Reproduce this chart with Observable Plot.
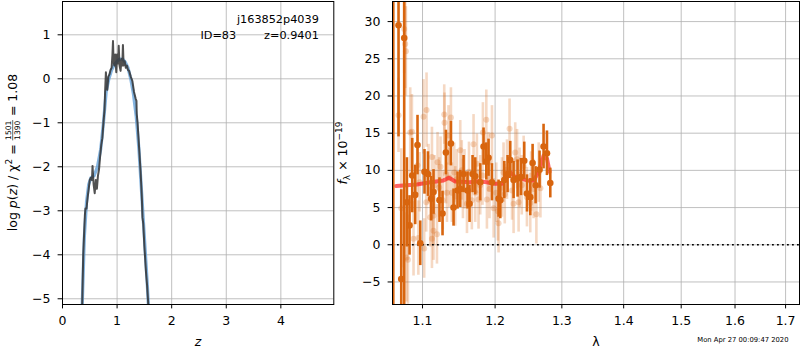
<!DOCTYPE html>
<html><head><meta charset="utf-8">
<script src="https://cdn.jsdelivr.net/npm/d3@7"></script>
<script src="https://cdn.jsdelivr.net/npm/@observablehq/plot@0.6"></script>
<style>
html,body{margin:0;padding:0;background:#fff;}
#wrap{position:relative;width:800px;height:350px;overflow:hidden;font-family:"DejaVu Sans",sans-serif;background:#fff;}
#left{position:absolute;left:0;top:0;}
#right{position:absolute;left:340px;top:0;}
#over{position:absolute;left:0;top:0;pointer-events:none;}
</style></head><body>
<div id="wrap"><div id="left"></div><div id="right"></div><svg id="over" width="800" height="350"></svg></div>
<script>
// ---- Left panel: log p(z) ----
const zNoisy = [0.36,0.38,0.41,0.42,0.44,0.46,0.50,0.52,0.54,0.55,0.57,0.59,0.61,0.63,0.65,0.67,0.69,0.71,0.73,0.75,0.77,0.78,0.795,0.81,0.82,0.84,0.86,0.88,0.90,0.915,0.925,0.935,0.95,0.965,0.985,1.0,1.02,1.03,1.045,1.064,1.08,1.095,1.107,1.12,1.14,1.16,1.18,1.2,1.22,1.25,1.28,1.31,1.34,1.355,1.36,1.375,1.39,1.41,1.43,1.45,1.455,1.465,1.48,1.50,1.53,1.55,1.565,1.58];
const logpNoisy = [-5.2,-4.0,-3.1,-2.95,-2.95,-2.7,-2.3,-2.25,-2.3,-1.98,-2.4,-2.6,-2.3,-2.5,-2.2,-2.05,-1.75,-1.5,-1.35,-1.0,-0.7,-0.3,0.15,-0.15,-0.25,0.05,0.1,0.2,0.25,0.55,0.86,0.4,0.3,0.55,0.15,0.55,0.35,0.75,0.3,0.18,0.45,0.3,0.77,0.3,0.4,0.25,0.3,0.2,0.18,0.05,-0.05,-0.3,-0.45,-0.5,-0.8,-1.0,-1.3,-1.7,-2.1,-2.6,-2.75,-3.15,-3.3,-3.8,-4.4,-4.7,-5.0,-5.3];
const zSmooth = [0.36,0.40,0.44,0.48,0.52,0.58,0.64,0.70,0.75,0.80,0.85,0.90,0.95,1.0,1.05,1.10,1.15,1.20,1.25,1.30,1.35,1.40,1.45,1.50,1.55,1.58];
const logpSmooth = [-5.2,-3.6,-2.8,-2.4,-2.25,-2.2,-2.0,-1.6,-1.0,-0.3,0.0,0.2,0.32,0.4,0.45,0.45,0.38,0.25,0.0,-0.35,-0.85,-1.6,-2.6,-3.6,-4.6,-5.3];
const xTicksL = [0,1,2,3,4];
const yTicksL = [-5,-4,-3,-2,-1,0,1];
const objName = "j163852p4039";
const objId = 83;
const zBest = 0.9401;
const chi2 = 1501, nDof = 1390, chi2Ratio = "1.08";

// ---- Right panel: spectrum ----
const lamLight = [1.0688,1.0761,1.0774,1.0783,1.0723,1.0791,1.0809,1.0839,1.0861,1.0882,1.0934,1.0961,1.1013,1.1022,1.1053,1.1049,1.1102,1.1125,1.1125,1.1146,1.1192,1.1200,1.1222,1.1270,1.1290,1.1294,1.1327,1.1348,1.1381,1.1394,1.1426,1.1462,1.1509,1.1546,1.1568,1.1602,1.1694,1.1718,1.1741,1.1764,1.1788,1.1826,1.1874,1.1883,1.1906,1.1955,1.1979,1.2017,1.2041,1.2050,1.2099,1.2122,1.2172,1.2210,1.2246,1.2269,1.2293,1.2343,1.2358,1.2418,1.2467,1.2517,1.2567,1.2609,1.2644,1.2670,1.108,1.116,1.124,1.136,1.144,1.153,1.163,1.167,1.182,1.192,1.214,1.232,1.239,1.253,1.0945,1.1145,1.1315];
const fluxLight = [17.4,29.0,27.0,26.0,4.9,-1.7,-2.0,15.1,15.2,0.8,10.7,8.4,17.2,-0.5,18.1,5.7,3.7,11.8,0.8,1.9,1.4,11.1,7.7,6.0,17.5,16.4,7.0,14.7,17.1,7.0,9.7,8.8,12.7,7.5,8.8,5.5,13.5,7.0,10.9,6.1,8.0,15.1,16.8,6.1,11.1,14.7,4.9,7.0,4.5,2.9,7.7,9.7,10.1,15.6,7.3,5.5,12.4,5.7,9.0,10.6,6.4,5.6,7.5,4.1,9.7,7.6,9.5,8.0,10.5,9.0,6.5,10.0,9.8,6.0,9.3,7.5,6.8,11.5,8.0,8.5,0.9,3.9,9.5];
const errLight = [5,6,6,6,8,6,6,6,5,5,4,4,5,4,5,4,4,4,4,4,4,4,4,4,4,4,4,4,4,4,4,4,4,4,4,4,4,4,4,4,4,4,4,4,4,4,4,4,4,4,4,4,4,4,4,4,4,4,4,4,4,4,4,4,4,4,4,4,4,4,4,4,4,4,4,4,4,4,4,4,5,4,4];
const lamBin = [1.0621,1.0688,1.0723,1.0761,1.0796,1.0830,1.0865,1.0904,1.0934,1.0970,1.1026,1.1072,1.1115,1.1146,1.1226,1.1267,1.1313,1.1381,1.1417,1.1472,1.1509,1.1555,1.1610,1.1638,1.1680,1.1718,1.1788,1.1835,1.1874,1.1906,1.1955,1.2050,1.2075,1.2133,1.2181,1.2220,1.2269,1.2328,1.2378,1.2427,1.2468,1.2517,1.2552,1.2597,1.2657,1.2718,1.2770,1.2821];
const fluxBin = [45,29.5,-4.6,27.8,5.7,2.6,9.3,6.7,13.4,0.2,9.8,9.5,6.2,7.1,6.0,4.2,12.4,13.6,5.0,7.3,7.5,9.5,7.3,5.5,9.5,9.2,8.4,13.2,11.2,11.7,8.4,6.2,6.0,8.7,9.5,11.4,8.7,8.9,9.1,11.3,6.9,6.4,11.0,8.0,10.1,13.2,12.3,8.3];
const errBin = [60,15,12,40,6,4,5,4,4,3,3,3,3,3,3,3,3,3,2.5,2.5,2.5,2.5,2.5,2.5,2.5,2.5,2.5,2.5,2.5,2.5,2.5,2.5,2.5,2.5,2.5,2.5,2.5,2.5,2.5,2.5,2.5,2.5,2.5,2.5,2.5,3,3,2];
const lamModel = [1.0658,1.0926,1.1102,1.1281,1.1354,1.1440,1.1638,1.1764,1.1883,1.1979,1.2099,1.2172,1.2220,1.2293,1.2393,1.2467,1.2567,1.2644,1.2718,1.2770,1.2810];
const fluxModel = [7.9,8.1,8.4,8.65,9.0,8.5,8.4,8.55,8.4,8.2,8.2,9.1,9.77,9.1,8.9,8.65,8.65,9.8,12.0,11.6,9.8];
const xTicksR = [1.1,1.2,1.3,1.4,1.5,1.6,1.7];
const yTicksR = [-5,0,5,10,15,20,25,30];
const stamp = "Mon Apr 27 00:09:47 2020";

const fmt = d => (d < 0 ? "\u2212" + Math.abs(d) : String(d));
const orange = "#d8650e";
const gridC = "#b0b0b0";
const baseStyle = {fontSize: "12.5px", fontFamily: "DejaVu Sans", color: "black", background: "white", overflow: "visible"};

const noisy = zNoisy.map((z, i) => ({z, p: logpNoisy[i]}));
const smooth = zSmooth.map((z, i) => ({z, p: logpSmooth[i]}));

const left = Plot.plot({
  width: 340, height: 350,
  marginTop: 1, marginLeft: 62, marginRight: 6.7, marginBottom: 46,
  style: baseStyle,
  x: {domain: [0, 4.97], ticks: xTicksL, tickSize: 4.4, tickPadding: 7.5, tickFormat: fmt, label: null},
  y: {domain: [-5.13, 1.757], ticks: yTicksL, tickSize: 4.4, tickPadding: 7.6, tickFormat: fmt, label: null},
  marks: [
    Plot.ruleX(xTicksL, {stroke: gridC, strokeWidth: 0.8}),
    Plot.ruleY(yTicksL, {stroke: gridC, strokeWidth: 0.8}),
    Plot.line(smooth, {x: "z", y: "p", stroke: "#5b9bd5", strokeWidth: 3.2, strokeOpacity: 0.75, clip: true}),
    Plot.line(noisy, {x: "z", y: "p", stroke: "#333", strokeWidth: 2, strokeOpacity: 0.85, clip: true}),
    Plot.text([objName], {frameAnchor: "top-right", lineAnchor: "bottom", textAnchor: "end", dx: -15, dy: 21.7, fontSize: 11.25}),
    Plot.text(["ID=" + objId], {frameAnchor: "top-right", lineAnchor: "bottom", textAnchor: "end", dx: -97.6, dy: 37.3, fontSize: 11.25}),
    Plot.text(["z=" + zBest.toFixed(4)], {frameAnchor: "top-right", lineAnchor: "bottom", textAnchor: "end", dx: -15, dy: 37.3, fontSize: 11.25}),
    Plot.text(["z"], {frameAnchor: "bottom", lineAnchor: "bottom", dy: 41, fontStyle: "italic", fontSize: 12.5}),
    Plot.frame({stroke: "black", strokeWidth: 1})
  ]
});
document.getElementById("left").appendChild(left);

const light = lamLight.map((l, i) => ({l, f: fluxLight[i], e: errLight[i]}));
const bins = lamBin.map((l, i) => ({l, f: fluxBin[i], e: errBin[i]}));
const model = lamModel.map((l, i) => ({l, f: fluxModel[i]}));

const right = Plot.plot({
  width: 460, height: 350,
  marginTop: 1, marginLeft: 52, marginRight: 1, marginBottom: 46,
  style: baseStyle,
  x: {type: "log", domain: [1.0611, 1.7286], ticks: xTicksR, tickSize: 4.4, tickPadding: 7.5, tickFormat: d => d.toFixed(1), label: null},
  y: {domain: [-8.03, 32.7], ticks: yTicksR, tickSize: 4.4, tickPadding: 7.6, tickFormat: fmt, label: null},
  marks: [
    Plot.ruleX(xTicksR, {stroke: gridC, strokeWidth: 0.8}),
    Plot.ruleY(yTicksR, {stroke: gridC, strokeWidth: 0.8}),
    Plot.ruleX(light, {x: "l", y1: d => d.f - d.e, y2: d => d.f + d.e, stroke: orange, strokeOpacity: 0.25, strokeWidth: 2.6, clip: true}),
    Plot.dot(light, {x: "l", y: "f", r: 3, fill: orange, fillOpacity: 0.25, stroke: "none", clip: true}),
    Plot.ruleY([0], {stroke: "black", strokeWidth: 1.6, strokeDasharray: "1.8,3.2"}),
    Plot.line(model, {x: "l", y: "f", stroke: "red", strokeOpacity: 0.6, strokeWidth: 4, clip: true}),
    Plot.ruleX(bins, {x: "l", y1: d => d.f - d.e, y2: d => d.f + d.e, stroke: orange, strokeWidth: 2.6, clip: true}),
    Plot.dot(bins, {x: "l", y: "f", r: 3.3, fill: orange, stroke: "none", clip: true}),
    Plot.text(["\u03bb"], {frameAnchor: "bottom", lineAnchor: "bottom", dy: 41, fontSize: 12.5}),
    Plot.text([stamp], {frameAnchor: "bottom-right", lineAnchor: "bottom", textAnchor: "end", dx: -11, dy: 37.5, fontSize: 6.8}),
    Plot.frame({stroke: "black", strokeWidth: 1})
  ]
});
document.getElementById("right").appendChild(right);

// ---- rich rotated axis titles ----
const over = d3.select("#over");
function addText(g, parts, x) {
  const t = g.append("text").attr("x", x).attr("y", 0)
    .attr("font-family", "DejaVu Sans").attr("fill", "black").attr("style", "white-space:pre");
  let shift = 0;
  for (const p of parts) {
    const s = t.append("tspan").text(p.t).attr("font-size", p.size || 12.5);
    if (p.italic) s.attr("font-style", "italic");
    const target = p.shift || 0;
    if (target !== shift) { s.attr("dy", target - shift); shift = target; }
  }
  return t;
}
// left label
{
  const g = over.append("g").attr("transform", "translate(16.5,152.5) rotate(-90)");
  const a = addText(g, [{t: "log "}, {t: "p", italic: true}, {t: "("}, {t: "z", italic: true}, {t: ") / \u03c7"}, {t: "2", size: 9, shift: -5}, {t: " = ", shift: 0}], 0);
  const wa = a.node().getComputedTextLength();
  const num = g.append("text").attr("font-size", 7.6).attr("font-family", "DejaVu Sans").attr("text-anchor", "middle").attr("y", -5.2).text(String(chi2));
  const den = g.append("text").attr("font-size", 7.6).attr("font-family", "DejaVu Sans").attr("text-anchor", "middle").attr("y", 3.6).text(String(nDof));
  const fw = Math.max(num.node().getComputedTextLength(), den.node().getComputedTextLength()) + 1;
  const b = addText(g, [{t: " = " + chi2Ratio}], 0);
  const wb = b.node().getComputedTextLength();
  const total = wa + fw + wb;
  const x0 = -total / 2;
  a.attr("x", x0);
  num.attr("x", x0 + wa + fw / 2);
  den.attr("x", x0 + wa + fw / 2);
  g.append("line").attr("x1", x0 + wa).attr("x2", x0 + wa + fw).attr("y1", -3.8).attr("y2", -3.8).attr("stroke", "black").attr("stroke-width", 0.6);
  b.attr("x", x0 + wa + fw);
}
// right label
{
  const g = over.append("g").attr("transform", "translate(347,153) rotate(-90)");
  const t = addText(g, [{t: "f", italic: true}, {t: "\u03bb", size: 9, shift: 3}, {t: " \u00d7 10", shift: 0}, {t: "\u221219", size: 9, shift: -5}], 0);
  const w = t.node().getComputedTextLength();
  t.attr("x", -w / 2);
}
</script>
</body></html>
